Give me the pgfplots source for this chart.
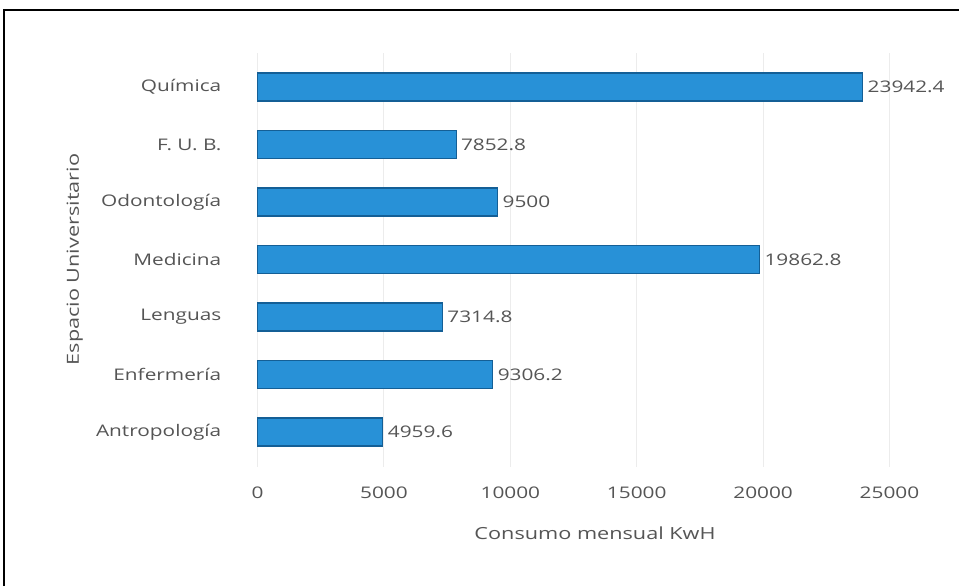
\documentclass[border=0pt]{standalone}
\usepackage{pgfplots}
\pgfplotsset{compat=1.18}
\usepackage{pgfplotstable}
\usepackage{fontspec}
\setmainfont{Open Sans}[FakeStretch=1.3]
\definecolor{barblue}{RGB}{40,145,215}
\definecolor{bardark}{RGB}{20,95,150}
\definecolor{txtgray}{RGB}{85,85,85}
\pgfplotstableread{
y x lab
0 4959.6 4959.6
1 9306.2 9306.2
2 7314.8 7314.8
3 19862.8 19862.8
4 9500 9500
5 7852.8 7852.8
6 23942.4 23942.4
}\datatab
\begin{document}
\begin{tikzpicture}[x=0.75pt,y=0.75pt]
\path[use as bounding box] (0,0) rectangle (959,586);
\draw[line width=1.5pt,black] (4,0) -- (4,576) -- (959,576);
\begin{axis}[
  at={(250pt*0.75,119.5pt*0.75)}, anchor=south west,
  scale only axis,
  width=517.5pt, height=310.5pt,
  xbar, bar width=21pt,
  xmin=-300, xmax=27000,
  ymin=-0.6, ymax=6.6,
  ytick={0,...,6},
  yticklabels={Antropología,Enfermería,Lenguas,Medicina,Odontología,{F. U. B.},Química},
  xtick={0,5000,10000,15000,20000,25000},
  scaled x ticks=false,
  /pgf/number format/assume math mode=true,
  /pgf/number format/set thousands separator={},
  xmajorgrids, grid style={gray!15, line width=0.8pt},
  axis line style={draw=none},
  major tick length=0pt,
  tick label style={font=\fontsize{12}{14}\selectfont, text=txtgray},
  yticklabel style={xshift=-18pt},
  xticklabel style={yshift=-12pt},
  xlabel={Consumo mensual KwH},
  ylabel={Espacio Universitario},
  label style={font=\fontsize{12.5}{15}\selectfont, text=txtgray},
  xlabel style={yshift=-14pt},
  ylabel style={yshift=3pt},
  nodes near coords,
  point meta=explicit symbolic,
  every node near coord/.append style={font=\fontsize{12}{14}\selectfont, text=txtgray, anchor=west, xshift=0pt},
  clip=false,
]
\addplot[fill=barblue, draw=bardark, line width=0.8pt] table[x=x, y=y, meta=lab] {\datatab};
\end{axis}
\end{tikzpicture}
\end{document}
